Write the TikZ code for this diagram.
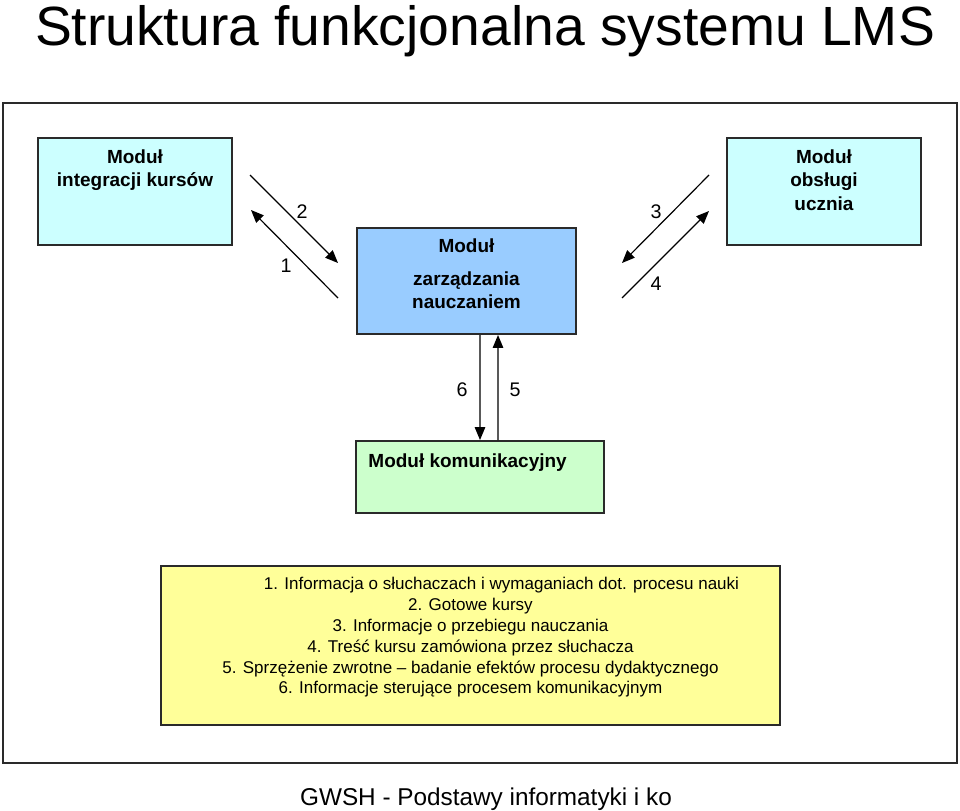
\documentclass[tikz,border=0pt]{standalone}
\usepackage{fontspec}
\setmainfont{Liberation Sans}
\usetikzlibrary{positioning}
\usetikzlibrary{arrows.meta}

\definecolor{cyanjasny}{HTML}{CCFFFF}
\definecolor{niebieski}{HTML}{99CCFF}
\definecolor{zielony}{HTML}{CCFFCC}
\definecolor{zolty}{HTML}{FFFF99}
\definecolor{ramkakolor}{HTML}{2A2A2A}

\tikzset{
    modul/.style={rectangle, draw=ramkakolor, line width=1.4pt, inner sep=0pt},
    opis/.style={inner sep=0pt, anchor=north, align=center, font=\fontsize{13.5}{16.7}\selectfont\bfseries},
    strzalka/.style={-{Triangle[length=3.2mm,width=2.6mm]}, line width=0.85pt},
    numer/.style={inner sep=0pt, font=\fontsize{14}{16}\selectfont},
}

\begin{document}
\begin{tikzpicture}[x=0.025cm, y=-0.025cm]
    \useasboundingbox (0,0) rectangle (960,810);

    \node[anchor=base, inner sep=0pt, font=\fontsize{39.3}{45}\selectfont] (tytul) at (485,45) {Struktura funkcjonalna systemu LMS};
    \node[rectangle, draw=ramkakolor, line width=1.4pt, minimum width=23.85cm, minimum height=16.5cm] (ramka) at (480,433) {};

    % moduly
    \node[modul, fill=cyanjasny, minimum width=4.85cm, minimum height=2.675cm] (integracja) at (135,191.5) {};
    \node[opis, below=0.3cm of integracja.north] (integracjaopis) {Moduł\\integracji kursów};
    \node[modul, fill=cyanjasny, minimum width=4.85cm, minimum height=2.675cm] (obsluga) at (824,191.5) {};
    \node[opis, below=0.3cm of obsluga.north] (obslugaopis) {Moduł\\obsługi\\ucznia};
    \node[modul, fill=niebieski, minimum width=5.475cm, minimum height=2.65cm] (zarzadzanie) at (466.5,281) {};
    \node[opis, below=0.275cm of zarzadzanie.north] (zarzadzanieopis) {Moduł\\[7pt]zarządzania\\nauczaniem};
    \node[modul, fill=zielony, minimum width=6.2cm, minimum height=1.8cm] (komunikacja) at (480,477) {};
    \node[opis, below=0.325cm of komunikacja.north, xshift=-0.31cm] (komunikacjaopis) {Moduł komunikacyjny};

    % legenda
    \node[modul, fill=zolty, minimum width=15.475cm, minimum height=3.975cm] (legenda) at (470.5,645.5) {};
    \node[inner sep=0pt, anchor=north, align=center, font=\fontsize{12.1}{14.9}\selectfont, below=0.29cm of legenda.north] (legendaopis) {%
        \hspace*{1.55cm}1. Informacja o słuchaczach i wymaganiach dot. procesu nauki\\
        2. Gotowe kursy\\
        3. Informacje o przebiegu nauczania\\
        4. Treść kursu zamówiona przez słuchacza\\
        5. Sprzężenie zwrotne – badanie efektów procesu dydaktycznego\\
        6. Informacje sterujące procesem komunikacyjnym};

    % strzalki
    \coordinate (s2a) at (250,175);
    \coordinate (s2b) at (338,263);
    \coordinate (s1a) at (338,298);
    \coordinate (s1b) at (251,210);
    \coordinate (s3a) at (709,175);
    \coordinate (s3b) at (622,263);
    \coordinate (s4a) at (622,298);
    \coordinate (s4b) at (709,211);
    \draw[strzalka] (s2a) -- (s2b);
    \draw[strzalka] (s1a) -- (s1b);
    \draw[strzalka] (s3a) -- (s3b);
    \draw[strzalka] (s4a) -- (s4b);
    \draw[strzalka] ([xshift=0.3375cm]zarzadzanie.south) -- (komunikacja.north);
    \draw[strzalka] ([xshift=0.45cm]komunikacja.north) -- ([xshift=0.7875cm]zarzadzanie.south);

    \node[numer] (n2) at (302,212) {2};
    \node[numer] (n1) at (286,266) {1};
    \node[numer] (n3) at (656,212) {3};
    \node[numer] (n4) at (656,284) {4};
    \node[numer] (n6) at (462,390) {6};
    \node[numer] (n5) at (515,390) {5};

    \node[anchor=base, inner sep=0pt, font=\fontsize{17.3}{20}\selectfont] (stopka) at (486,805) {GWSH - Podstawy informatyki i ko};
\end{tikzpicture}
\end{document}
